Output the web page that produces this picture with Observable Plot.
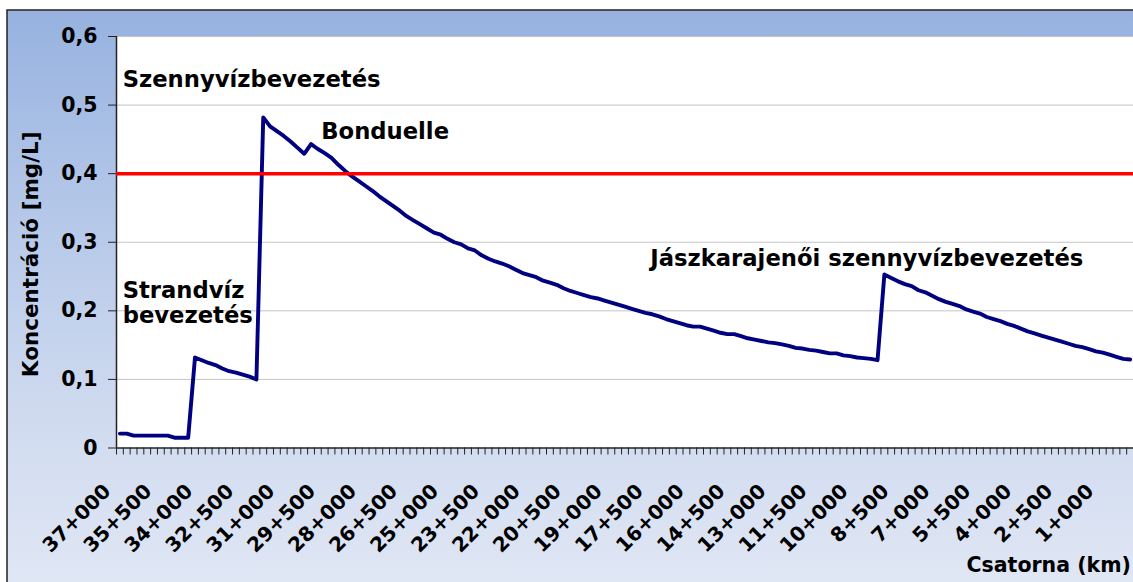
<!DOCTYPE html>
<html>
<head>
<meta charset="utf-8">
<script src="https://cdn.jsdelivr.net/npm/d3@7"></script>
<script src="https://cdn.jsdelivr.net/npm/@observablehq/plot@0.6"></script>
<style>
  body { margin: 0; background: #ffffff; }
  #chart svg { display: block; }
</style>
</head>
<body>
<div id="chart"></div>
<script>
// Stations every 250 m, from 37+000 down to 0+000 (index 0 = 37+000)
const startKm = 37;
const stepKm = 0.25;

// Concentration [mg/L] at each station
const concentration = [
  0.021, 0.021, 0.018, 0.018, 0.018, 0.018, 0.018, 0.018, 0.015, 0.015,
  0.015, 0.132, 0.128, 0.124, 0.121, 0.116, 0.112, 0.110, 0.107, 0.104,
  0.100, 0.482, 0.469, 0.462, 0.455, 0.447, 0.438, 0.429, 0.443, 0.436,
  0.430, 0.423, 0.413, 0.404, 0.396, 0.389, 0.382, 0.375, 0.367, 0.360,
  0.353, 0.346, 0.338, 0.332, 0.326, 0.320, 0.314, 0.311, 0.305, 0.300,
  0.297, 0.291, 0.288, 0.281, 0.276, 0.272, 0.269, 0.265, 0.260, 0.255,
  0.252, 0.249, 0.244, 0.241, 0.238, 0.233, 0.229, 0.226, 0.223, 0.220,
  0.218, 0.215, 0.212, 0.209, 0.206, 0.203, 0.200, 0.197, 0.195, 0.192,
  0.188, 0.185, 0.182, 0.179, 0.177, 0.177, 0.174, 0.171, 0.168, 0.166,
  0.166, 0.163, 0.160, 0.158, 0.156, 0.154, 0.153, 0.151, 0.149, 0.146,
  0.145, 0.143, 0.142, 0.140, 0.138, 0.138, 0.135, 0.134, 0.132, 0.131,
  0.130, 0.128, 0.253, 0.248, 0.243, 0.239, 0.236, 0.230, 0.227, 0.222,
  0.217, 0.213, 0.210, 0.207, 0.202, 0.199, 0.196, 0.191, 0.188, 0.185,
  0.181, 0.178, 0.174, 0.170, 0.167, 0.164, 0.161, 0.158, 0.155, 0.152,
  0.149, 0.147, 0.144, 0.141, 0.139, 0.136, 0.133, 0.130, 0.129
];

// Category tick labels shown on the x axis
const tickLabels = [
  "37+000", "35+500", "34+000", "32+500", "31+000", "29+500", "28+000",
  "26+500", "25+000", "23+500", "22+000", "20+500", "19+000", "17+500",
  "16+000", "14+500", "13+000", "11+500", "10+000", "8+500", "7+000",
  "5+500", "4+000", "2+500", "1+000"
];

const yTicks = [0, 0.1, 0.2, 0.3, 0.4, 0.5, 0.6];
const gridValues = [0.1, 0.2, 0.3, 0.4, 0.5, 0.6];
const limitValue = [0.4];

const yTitle = "Koncentráció [mg/L]";
const xTitle = "Csatorna (km)";

// Annotations: text, station index, concentration
const noteTexts = ["Szennyvízbevezetés", "Bonduelle", "Strandvíz\nbevezetés", "Jászkarajenői szennyvízbevezetés"];
const noteStations = [0.4, 29.5, 0.4, 77.7];
const noteValues = [0.526, 0.450, 0.1825, 0.2655];

const stationIndex = concentration.map((_, i) => i);
const n = concentration.length;
const boundaries = d3.range(-0.5, n, 1);
const labelIndex = (s) => {
  const [k, m] = s.split("+");
  return (startKm - (+k + (+m) / 1000)) / stepKm;
};

const FONT = "DejaVu Sans";
const notes = noteTexts.map((t, i) => ({t, x: noteStations[i], y: noteValues[i]}));

const plot = Plot.plot({
  width: 1133,
  height: 582,
  marginLeft: 116,
  marginRight: 0,
  marginTop: 36,
  marginBottom: 134.5,
  style: { background: "transparent", fontFamily: FONT, overflow: "visible" },
  x: { domain: [-0.5, n - 0.5] },
  y: { domain: [0, 0.6] },
  marks: [
    Plot.frame({ fill: "white", stroke: null }),
    Plot.ruleY(gridValues, { stroke: "#c4c4c4", strokeWidth: 1 }),
    Plot.axisY(yTicks, {
      tickSize: 8, tickPadding: 11, label: null,
      tickFormat: d => String(d).replace(".", ","),
      fontSize: 20.5, fontWeight: "bold", fontFamily: FONT, color: "#000", stroke: "#222"
    }),
    Plot.axisX(boundaries, {
      tickSize: 7, tickFormat: () => "", label: null, stroke: "#222"
    }),
    Plot.ruleX([-0.5], { stroke: "#222", strokeWidth: 1.5 }),
    Plot.ruleY([0], { stroke: "#222", strokeWidth: 1.5 }),
    Plot.line(concentration, {
      x: stationIndex, y: d => d,
      stroke: "#000080", strokeWidth: 3.9, strokeLinejoin: "round", strokeLinecap: "round"
    }),
    Plot.ruleY(limitValue, { stroke: "#ff0000", strokeWidth: 3.5 }),
    Plot.text(tickLabels, {
      x: labelIndex, frameAnchor: "bottom", dx: -8, dy: 44.5, rotate: -45,
      text: d => d, textAnchor: "end", lineAnchor: "bottom",
      fontSize: 20, fontWeight: "bold", fontFamily: FONT, fill: "#000"
    }),
    Plot.text(notes, {
      x: "x", y: "y", text: "t", textAnchor: "start", lineAnchor: "bottom",
      lineHeight: 1.11,
      fontSize: 22.7, fontWeight: "bold", fontFamily: FONT, fill: "#000"
    }),
    Plot.text([yTitle], {
      frameAnchor: "left", dx: -79, dy: 12, rotate: -90,
      textAnchor: "middle", lineAnchor: "bottom",
      fontSize: 21.5, fontWeight: "bold", fontFamily: FONT, fill: "#000"
    }),
    Plot.text([xTitle], {
      frameAnchor: "bottom-right", dx: -167, dy: 123.5,
      textAnchor: "start", lineAnchor: "bottom",
      fontSize: 20.5, fontWeight: "bold", fontFamily: FONT, fill: "#000"
    })
  ]
});

// Chart-area background (gradient panel with dark border), placed behind everything
const svg = d3.select(plot);
const defs = svg.insert("defs", ":first-child");
const grad = defs.append("linearGradient").attr("id", "bgGrad")
  .attr("x1", 0).attr("y1", 0).attr("x2", 0).attr("y2", 1);
[["0%", "#97b2e0"], ["40%", "#b9cbea"], ["72%", "#d2dcf0"], ["100%", "#e1e8f5"]]
  .forEach(([o, c]) => grad.append("stop").attr("offset", o).attr("stop-color", c));
svg.insert("rect", "defs + *")
  .attr("x", 7).attr("y", 10).attr("width", 1140).attr("height", 590)
  .attr("fill", "url(#bgGrad)").attr("stroke", "#222").attr("stroke-width", 1.5);

document.getElementById("chart").appendChild(plot);
</script>
</body>
</html>
